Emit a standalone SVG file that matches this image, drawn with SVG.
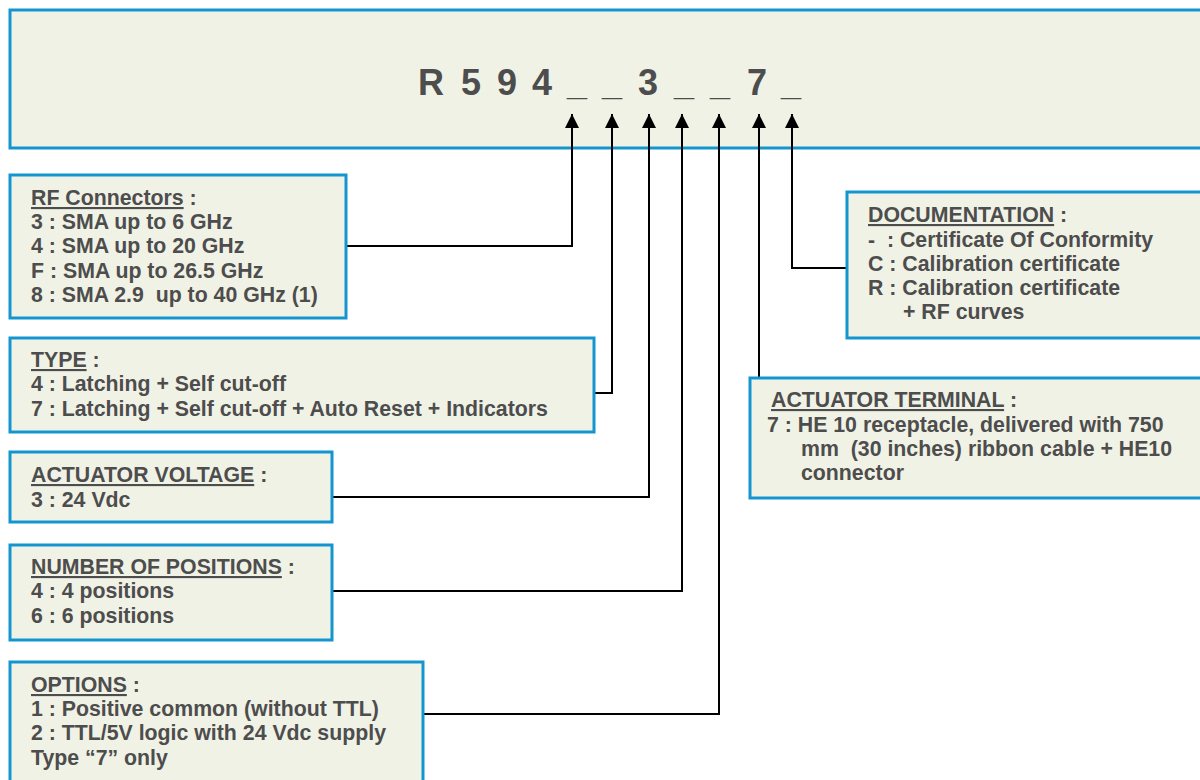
<svg xmlns="http://www.w3.org/2000/svg" width="1200" height="780" viewBox="0 0 1200 780">
<defs>
<style>
.box{fill:#f1f2e6;stroke:#1396cf;stroke-width:3}
.t{font-family:"Liberation Sans",Arial,sans-serif;font-weight:bold;font-size:21.3px;fill:#4d4d4d}
.u{text-decoration:underline}
.code{font-family:"Liberation Sans",Arial,sans-serif;font-weight:bold;font-size:36px;fill:#4d4d4d;text-anchor:middle}
.c{fill:none;stroke:#000;stroke-width:2}
</style>
<marker id="ah" markerUnits="userSpaceOnUse" markerWidth="16" markerHeight="16" viewBox="0 0 16 16" refX="15" refY="8" orient="auto">
<path d="M1,1 L15,8 L1,15 Z" fill="#000"/>
</marker>
</defs>
<rect width="1200" height="780" fill="#fff"/>
<g id="header">
<rect class="box" x="10" y="10" width="1200" height="138"/>
<text class="code" y="95"><tspan x="431">R</tspan><tspan x="471">5</tspan><tspan x="507">9</tspan><tspan x="542">4</tspan><tspan x="577">_</tspan><tspan x="612">_</tspan><tspan x="648">3</tspan><tspan x="684">_</tspan><tspan x="720">_</tspan><tspan x="757">7</tspan><tspan x="791">_</tspan></text>
</g>
<g id="connectors">
<path class="c" d="M346,246 H572 V114" marker-end="url(#ah)"/>
<path class="c" d="M594,393 H612 V114" marker-end="url(#ah)"/>
<path class="c" d="M332,497 H649 V114" marker-end="url(#ah)"/>
<path class="c" d="M332,591 H682 V114" marker-end="url(#ah)"/>
<path class="c" d="M423,714 H719 V114" marker-end="url(#ah)"/>
<path class="c" d="M759,378 V114" marker-end="url(#ah)"/>
<path class="c" d="M847,268 H792 V114" marker-end="url(#ah)"/>
</g>
<g id="rf">
<rect class="box" x="10" y="175" width="336" height="143"/>
<text class="t" x="31" y="205"><tspan class="u">RF Connectors</tspan> :</text>
<text class="t" x="31" y="229">3 : SMA up to 6 GHz</text>
<text class="t" x="31" y="253">4 : SMA up to 20 GHz</text>
<text class="t" x="31" y="278">F : SMA up to 26.5 GHz</text>
<text class="t" x="31" y="302" xml:space="preserve">8 : SMA 2.9  up to 40 GHz (1)</text>
</g>
<g id="type">
<rect class="box" x="10" y="338" width="584" height="94"/>
<text class="t" x="31" y="367"><tspan class="u">TYPE</tspan> :</text>
<text class="t" x="31" y="391">4 : Latching + Self cut-off</text>
<text class="t" x="31" y="416">7 : Latching + Self cut-off + Auto Reset + Indicators</text>
</g>
<g id="voltage">
<rect class="box" x="10" y="452" width="322" height="70"/>
<text class="t" x="31" y="482"><tspan class="u">ACTUATOR VOLTAGE</tspan> :</text>
<text class="t" x="31" y="507">3 : 24 Vdc</text>
</g>
<g id="positions">
<rect class="box" x="10" y="545" width="322" height="95"/>
<text class="t" x="31" y="574"><tspan class="u">NUMBER OF POSITIONS</tspan> :</text>
<text class="t" x="31" y="598">4 : 4 positions</text>
<text class="t" x="31" y="623">6 : 6 positions</text>
</g>
<g id="options">
<rect class="box" x="10" y="662" width="413" height="130"/>
<text class="t" x="31" y="692"><tspan class="u">OPTIONS</tspan> :</text>
<text class="t" x="31" y="716">1 : Positive common (without TTL)</text>
<text class="t" x="31" y="740">2 : TTL/5V logic with 24 Vdc supply</text>
<text class="t" x="31" y="765">Type “7” only</text>
</g>
<g id="documentation">
<rect class="box" x="847" y="192" width="370" height="146"/>
<text class="t" x="868" y="222"><tspan class="u">DOCUMENTATION</tspan> :</text>
<text class="t" x="868" y="247" xml:space="preserve">-  : Certificate Of Conformity</text>
<text class="t" x="868" y="271">C : Calibration certificate</text>
<text class="t" x="868" y="295">R : Calibration certificate</text>
<text class="t" x="903" y="319">+ RF curves</text>
</g>
<g id="terminal">
<rect class="box" x="750" y="378" width="470" height="120"/>
<text class="t" x="771" y="407"><tspan class="u">ACTUATOR TERMINAL</tspan> :</text>
<text class="t" x="767" y="432">7 : HE 10 receptacle, delivered with 750</text>
<text class="t" x="801" y="456" xml:space="preserve">mm  (30 inches) ribbon cable + HE10</text>
<text class="t" x="801" y="480">connector</text>
</g>
</svg>
